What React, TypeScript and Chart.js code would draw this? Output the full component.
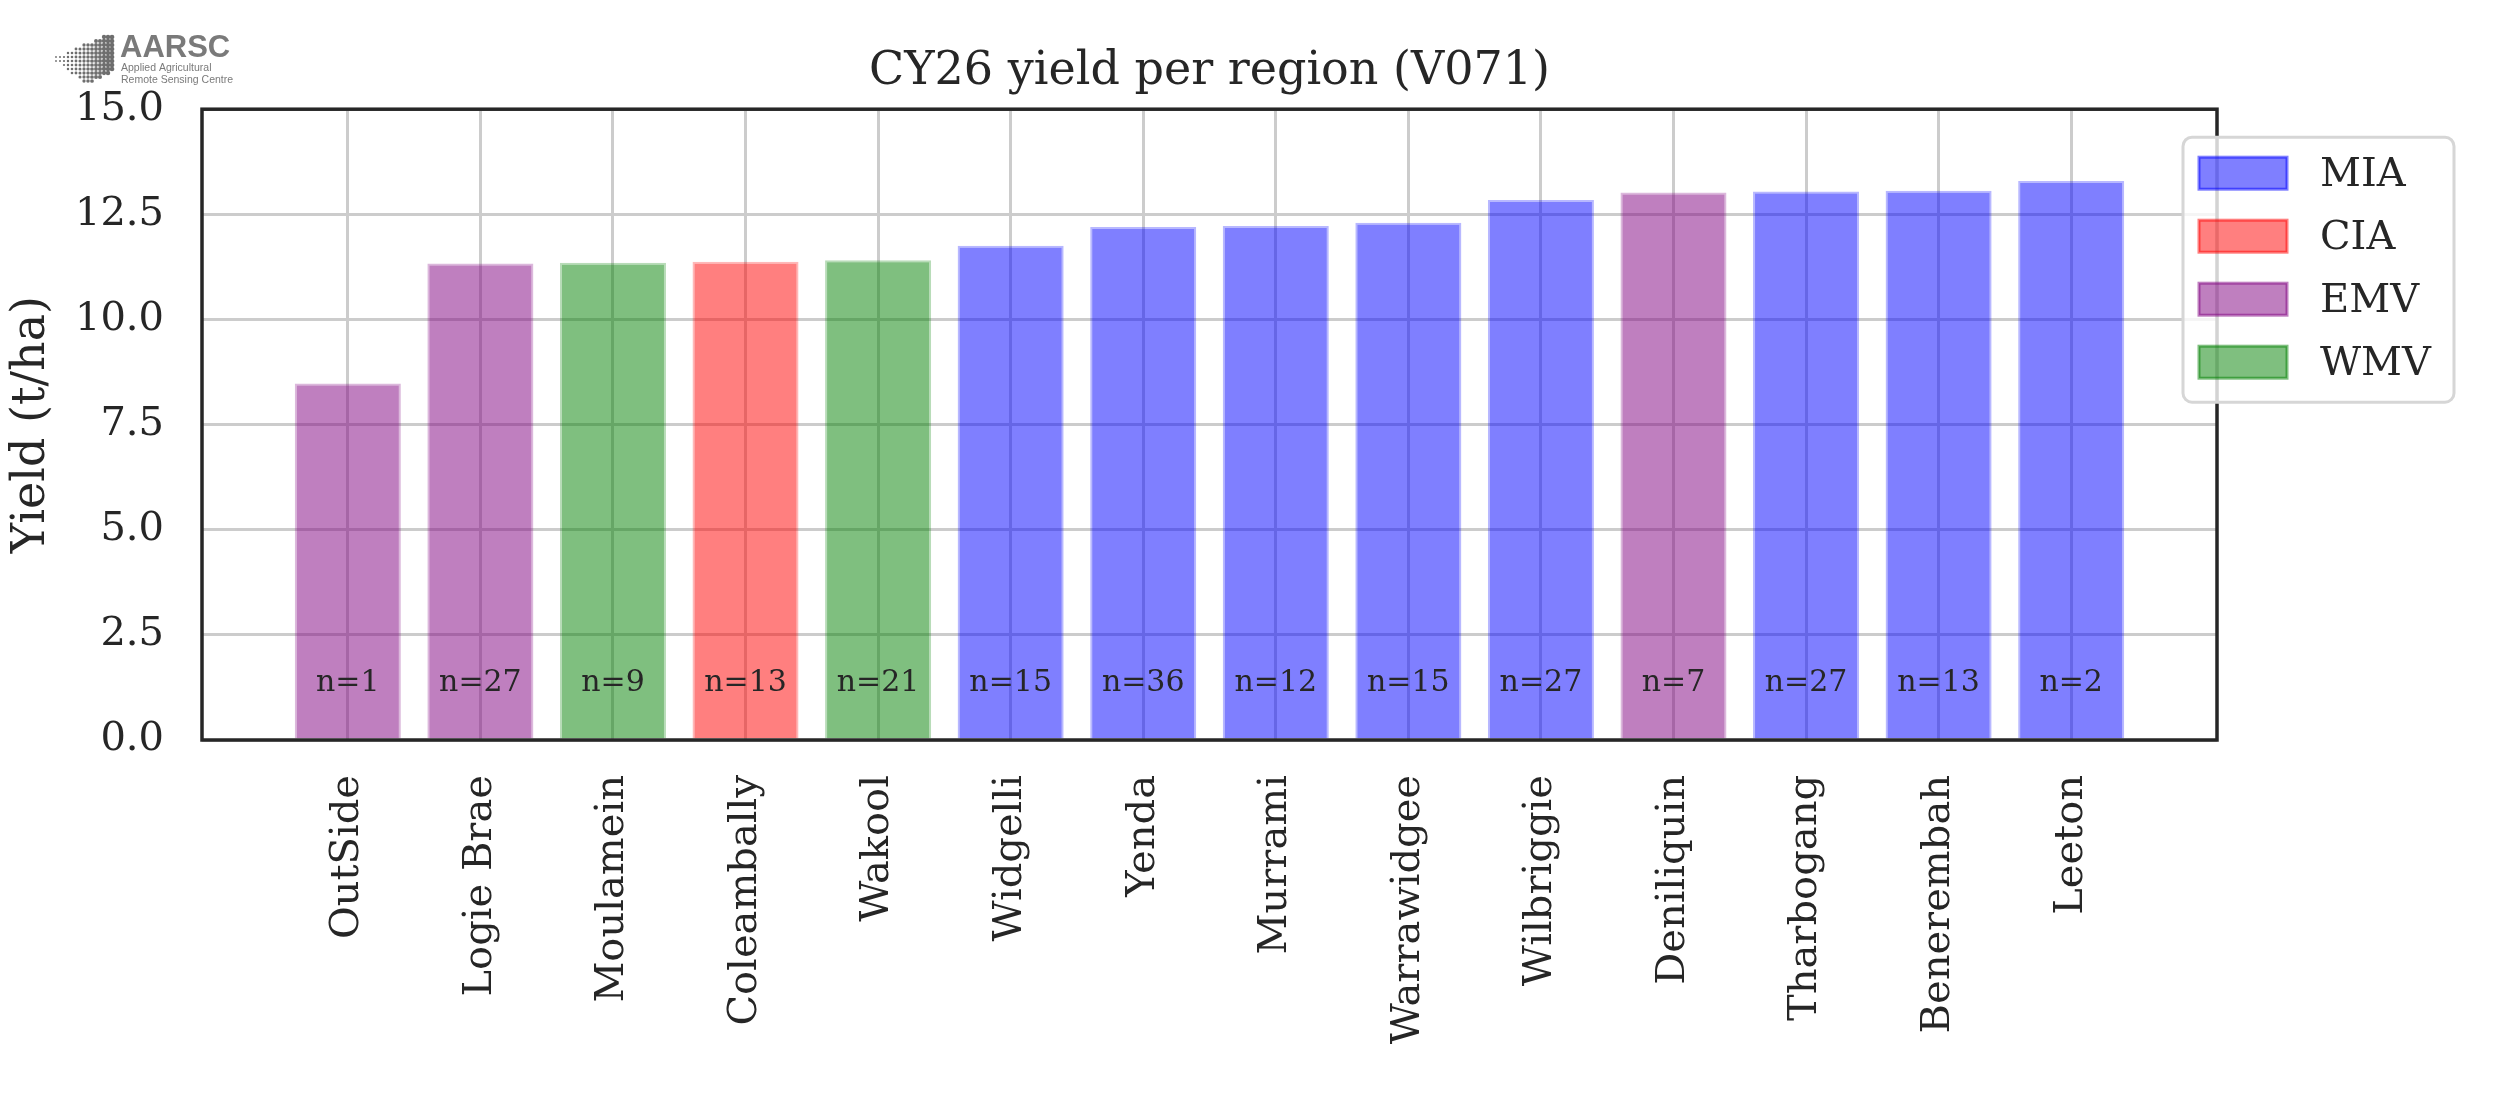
import React, { useEffect, useRef } from "react";
import { Chart, registerables } from "chart.js";

Chart.register(...registerables);

// regions, sorted by yield
const regions = [
  "OutSide",
  "Logie Brae",
  "Moulamein",
  "Coleambally",
  "Wakool",
  "Widgelli",
  "Yenda",
  "Murrami",
  "Warrawidgee",
  "Wilbriggie",
  "Deniliquin",
  "Tharbogang",
  "Benerembah",
  "Leeton",
];
const yields = [8.48, 11.33, 11.35, 11.37, 11.41, 11.75, 12.2, 12.22, 12.3, 12.84, 13.02, 13.04, 13.06, 13.29];
const districts = ["EMV", "EMV", "WMV", "CIA", "WMV", "MIA", "MIA", "MIA", "MIA", "MIA", "EMV", "MIA", "MIA", "MIA"];
const sampleCounts = [1, 27, 9, 13, 21, 15, 36, 12, 15, 27, 7, 27, 13, 2];
const districtNames = ["MIA", "CIA", "EMV", "WMV"];
const yTickStep = 2.5;
const yMax = 15;

const districtRgb: Record<string, string> = {
  MIA: "0,0,255",
  CIA: "255,0,0",
  EMV: "128,0,128",
  WMV: "0,128,0",
};

const SERIF = "'DejaVu Serif', serif";
const TEXT = "#262626";

const overlay = {
  id: "overlay",
  afterDatasetsDraw(chart: any) {
    const { ctx, chartArea, scales } = chart;
    ctx.save();
    // sample counts at the foot of each bar
    ctx.font = `30px ${SERIF}`;
    ctx.fillStyle = TEXT;
    ctx.textAlign = "center";
    ctx.textBaseline = "bottom";
    regions.forEach((_, i) => {
      ctx.fillText(`n=${sampleCounts[i]}`, scales.x.getPixelForValue(i), scales.y.getPixelForValue(1));
    });
    // frame on all four sides
    ctx.strokeStyle = TEXT;
    ctx.lineWidth = 3.5;
    ctx.strokeRect(chartArea.left, chartArea.top, chartArea.right - chartArea.left, chartArea.bottom - chartArea.top);
    ctx.restore();
  },
  afterDraw(chart: any) {
    const { ctx, chartArea } = chart;
    ctx.save();

    // legend box, hanging over the right edge
    const bx = chartArea.right - 34;
    const by = chartArea.top + 28;
    ctx.beginPath();
    ctx.roundRect(bx, by, 271, 265, 9);
    ctx.fillStyle = "rgba(255,255,255,0.8)";
    ctx.fill();
    ctx.strokeStyle = "#d6d6d6";
    ctx.lineWidth = 3;
    ctx.stroke();

    chart.data.datasets.forEach((ds: any, i: number) => {
      const cy = by + 36 + i * 63;
      const rgb = districtRgb[ds.label];
      ctx.fillStyle = `rgba(${rgb},0.5)`;
      ctx.fillRect(bx + 16, cy - 16, 88, 32);
      ctx.strokeStyle = `rgba(${rgb},0.5)`;
      ctx.lineWidth = 3;
      ctx.strokeRect(bx + 16, cy - 16, 88, 32);
      ctx.fillStyle = TEXT;
      ctx.font = `40px ${SERIF}`;
      ctx.textAlign = "left";
      ctx.textBaseline = "middle";
      ctx.fillText(ds.label, bx + 137, cy + 2);
    });

    // logo, top left
    ctx.fillStyle = "#6e6e6e";
    const quad = [
      [52, 58],
      [113, 33],
      [113, 72],
      [88, 85],
    ];
    const inside = (px: number, py: number) => {
      let c = false;
      for (let a = 0, b = quad.length - 1; a < quad.length; b = a++) {
        const [xa, ya] = quad[a];
        const [xb, yb] = quad[b];
        if (ya > py !== yb > py && px < ((xb - xa) * (py - ya)) / (yb - ya) + xa) c = !c;
      }
      return c;
    };
    for (let gx = 52; gx <= 113; gx += 4) {
      for (let gy = 33; gy <= 85; gy += 4) {
        if (!inside(gx, gy)) continue;
        const r = 0.8 + (1.6 * (gx - 52)) / 61;
        ctx.beginPath();
        ctx.arc(gx, gy, r, 0, Math.PI * 2);
        ctx.fill();
      }
    }
    ctx.fillStyle = "#7a7a7a";
    ctx.textAlign = "left";
    ctx.textBaseline = "alphabetic";
    ctx.font = "bold 31px 'Liberation Sans', sans-serif";
    ctx.fillText("AARSC", 120, 57);
    ctx.font = "10.5px 'Liberation Sans', sans-serif";
    ctx.fillText("Applied Agricultural", 121, 71);
    ctx.fillText("Remote Sensing Centre", 121, 83);

    ctx.restore();
  },
};

const App = () => {
  const canvasRef = useRef<HTMLCanvasElement | null>(null);

  useEffect(() => {
    document.body.style.margin = "0";
    if (!canvasRef.current) return;
    const ctx = canvasRef.current.getContext("2d");
    if (!ctx) return;

    const datasets = districtNames.map((name) => ({
      label: name,
      data: regions
        .map((_, i) => ({ x: i, y: yields[i] }))
        .filter((_, i) => districts[i] === name),
      backgroundColor: `rgba(${districtRgb[name]},0.5)`,
      borderColor: `rgba(${districtRgb[name]},0.28)`,
      borderWidth: 2,
      barPercentage: 0.8,
      categoryPercentage: 1,
    }));

    const chart = new Chart(ctx, {
      type: "bar",
      data: { datasets },
      plugins: [overlay],
      options: {
        responsive: false,
        animation: false,
        layout: { padding: { left: 0, right: 283, top: 0, bottom: 0 } },
        plugins: {
          legend: { display: false },
          tooltip: { enabled: false },
          title: {
            display: true,
            fullSize: false,
            text: "CY26 yield per region (V071)",
            color: TEXT,
            font: { family: SERIF, size: 46, weight: "normal" },
            padding: { top: 44, bottom: 10 },
          },
        },
        scales: {
          x: {
            type: "linear",
            stacked: true,
            offset: false,
            min: -1.1,
            max: regions.length - 1 + 1.1,
            afterBuildTicks: (scale: any) => {
              scale.ticks = regions.map((_, i) => ({ value: i }));
            },
            afterFit: (scale: any) => {
              scale.height = 371;
            },
            grid: { color: "#cccccc", lineWidth: 3, drawTicks: false, offset: false },
            border: { display: false },
            ticks: {
              autoSkip: false,
              minRotation: 90,
              maxRotation: 90,
              padding: 35,
              color: TEXT,
              font: { family: SERIF, size: 40 },
              callback: (v: any) => regions[v as number],
            },
          },
          y: {
            stacked: true,
            min: 0,
            max: yMax,
            afterFit: (scale: any) => {
              scale.width = 202;
            },
            grid: { color: "#cccccc", lineWidth: 3, drawTicks: false },
            border: { display: false },
            ticks: {
              stepSize: yTickStep,
              padding: 38,
              color: TEXT,
              font: { family: SERIF, size: 40 },
              callback: (v: any) => Number(v).toFixed(1),
            },
            title: {
              display: true,
              text: "Yield (t/ha)",
              color: TEXT,
              font: { family: SERIF, size: 46 },
              padding: { top: 4, bottom: 0 },
            },
          },
        },
      },
    });

    return () => {
      chart.destroy();
    };
  }, []);

  return (
    <div style={{ position: "absolute", left: 0, top: 0, width: 2500, height: 1111, background: "#fff" }}>
      <canvas ref={canvasRef} width={2500} height={1111} style={{ width: 2500, height: 1111 }} />
    </div>
  );
};

export default App;
